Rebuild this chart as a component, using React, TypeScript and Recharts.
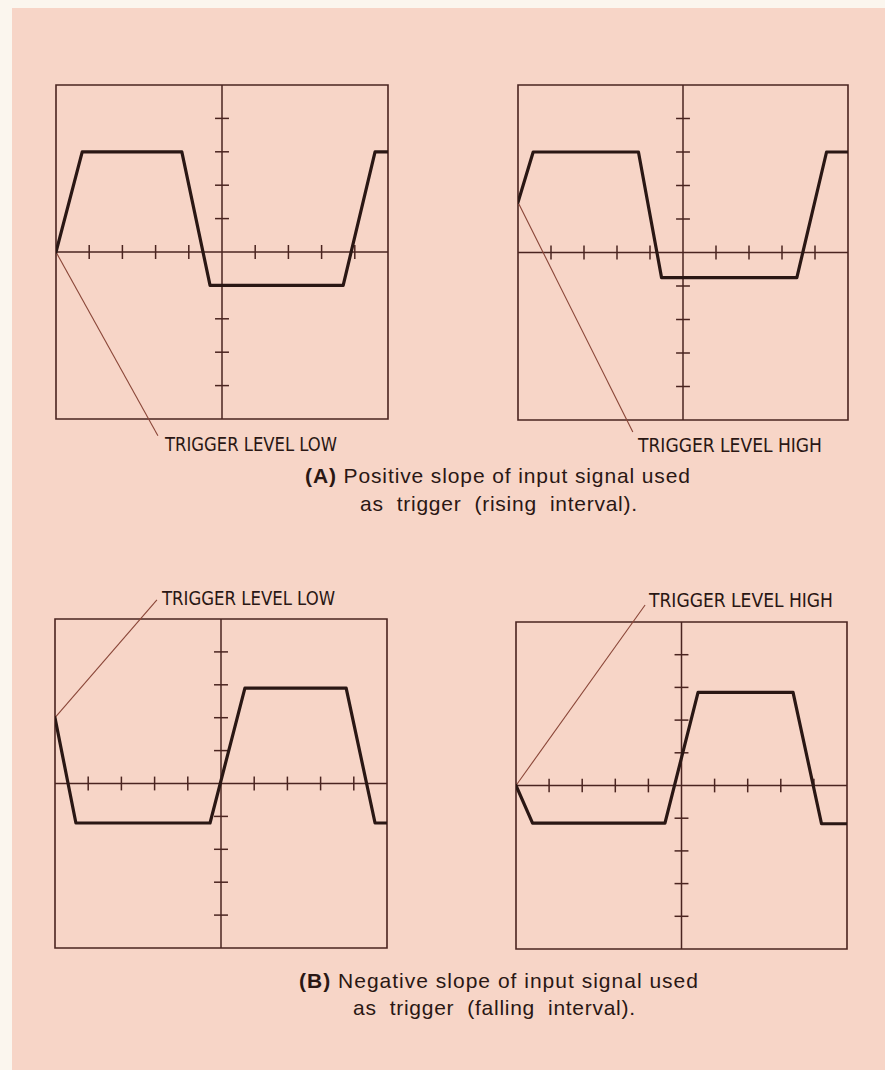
import React from 'react';
import { LineChart, Line, XAxis, YAxis, ReferenceLine, ReferenceArea } from 'recharts';

// ---- data (scope divisions, x and y in [-5, 5]) ----
const aLowX = [-5, -4.21, -1.21, -0.36, 3.65, 4.61, 5];
const aLowY = [0, 3, 3, -1, -1, 3, 3];
const aHighX = [-5, -4.54, -1.35, -0.65, 3.45, 4.35, 5];
const aHighY = [1.5, 3, 3, -0.75, -0.75, 3, 3];
const bLowX = [-5, -4.37, -0.33, 0.72, 3.77, 4.64, 5];
const bLowY = [2, -1.2, -1.2, 2.9, 2.9, -1.2, -1.2];
const bHighX = [-5, -4.5, -0.5, 0.5, 3.37, 4.23, 5];
const bHighY = [0, -1.15, -1.15, 2.85, 2.85, -1.17, -1.17];

const tickPositions = [-4, -3, -2, -1, 1, 2, 3, 4];

const labelLow = 'TRIGGER LEVEL LOW';
const labelHigh = 'TRIGGER LEVEL HIGH';
const captionA1Bold = '(A)';
const captionA1 = ' Positive slope of input signal used';
const captionA2 = 'as  trigger  (rising  interval).';
const captionB1Bold = '(B)';
const captionB1 = ' Negative slope of input signal used';
const captionB2 = 'as  trigger  (falling  interval).';

// arrow segments: from trace start to label (in divisions)
const arrowALow = [{ x: -5, y: 0 }, { x: -1.93, y: -5.5 }];
const arrowAHigh = [{ x: -5, y: 1.5 }, { x: -1.52, y: -5.36 }];
const arrowBLow = [{ x: -5, y: 2 }, { x: -1.93, y: 5.58 }];
const arrowBHigh = [{ x: -5, y: 0 }, { x: -1.1, y: 5.52 }];

const BG = '#F7D5C7';
const INK = '#2a1714';
const AXIS = '#4a2420';
const ARROW = '#8a4638';

type Box = { x0: number; x1: number; y0: number; y1: number };

function Panel({ xs, ys, box, labelBelow, arrow }: { xs: number[]; ys: number[]; box: Box; labelBelow: boolean; arrow: { x: number; y: number }[] }) {
  const margin = labelBelow ? { top: 10, right: 10, bottom: 40, left: 10 } : { top: 40, right: 10, bottom: 10, left: 10 };
  const w = box.x1 - box.x0 + margin.left + margin.right;
  const h = box.y1 - box.y0 + margin.top + margin.bottom;
  const data = xs.map((x, i) => ({ x, y: ys[i] }));
  const tl = 0.21;
  return (
    <div style={{ position: 'absolute', left: box.x0 - margin.left, top: box.y0 - margin.top, width: w, height: h }}>
      <LineChart width={w} height={h} data={data} margin={margin} style={{ overflow: 'visible' }}>
        <XAxis type="number" dataKey="x" domain={[-5, 5]} hide allowDataOverflow />
        <YAxis type="number" domain={[-5, 5]} hide allowDataOverflow />
        <ReferenceArea x1={-5} x2={5} y1={-5} y2={5} fill="none" stroke={AXIS} strokeWidth={1.6} fillOpacity={0} ifOverflow="visible" />
        <ReferenceLine x={0} stroke={AXIS} strokeWidth={1.5} ifOverflow="visible" />
        <ReferenceLine y={0} stroke={AXIS} strokeWidth={1.5} ifOverflow="visible" />
        {tickPositions.map((t) => (
          <ReferenceLine key={'tx' + t} segment={[{ x: t, y: -tl }, { x: t, y: tl }]} stroke={AXIS} strokeWidth={1.5} ifOverflow="visible" />
        ))}
        {tickPositions.map((t) => (
          <ReferenceLine key={'ty' + t} segment={[{ x: -tl, y: t }, { x: tl, y: t }]} stroke={AXIS} strokeWidth={1.5} ifOverflow="visible" />
        ))}
        <ReferenceLine segment={arrow} stroke={ARROW} strokeWidth={1.1} ifOverflow="visible" />
        <Line type="linear" dataKey="y" stroke={INK} strokeWidth={3.2} dot={false} activeDot={false} isAnimationActive={false} strokeLinejoin="round" strokeLinecap="round" />
      </LineChart>
    </div>
  );
}

export default function App() {
  const labelFont = "'Liberation Sans Narrow', 'DejaVu Sans Condensed', 'Liberation Sans', sans-serif";
  const capFont = "'Liberation Sans', Arial, sans-serif";
  return (
    <div style={{ position: 'absolute', left: 0, top: 0, width: 885, height: 1070, background: '#fbf6ee', overflow: 'hidden' }}>
      <div style={{ position: 'absolute', left: 12, top: 8, width: 873, height: 1062, background: BG }} />
      <Panel xs={aLowX} ys={aLowY} box={{ x0: 56, x1: 388, y0: 85, y1: 419 }} labelBelow arrow={arrowALow} />
      <Panel xs={aHighX} ys={aHighY} box={{ x0: 518, x1: 848, y0: 85, y1: 420 }} labelBelow arrow={arrowAHigh} />
      <Panel xs={bLowX} ys={bLowY} box={{ x0: 55, x1: 387, y0: 619, y1: 948 }} labelBelow={false} arrow={arrowBLow} />
      <Panel xs={bHighX} ys={bHighY} box={{ x0: 516, x1: 847, y0: 622, y1: 949 }} labelBelow={false} arrow={arrowBHigh} />
      <svg width={885} height={1070} style={{ position: 'absolute', left: 0, top: 0, pointerEvents: 'none' }}>
        <g fill={INK} fontFamily={labelFont} fontSize={19}>
          <text x={165} y={451} textLength={172} lengthAdjust="spacingAndGlyphs">{labelLow}</text>
          <text x={638} y={451.5} textLength={184} lengthAdjust="spacingAndGlyphs">{labelHigh}</text>
          <text x={162} y={605} textLength={173} lengthAdjust="spacingAndGlyphs">{labelLow}</text>
          <text x={649} y={607} textLength={184} lengthAdjust="spacingAndGlyphs">{labelHigh}</text>
        </g>
        <g fill={INK} fontFamily={capFont} fontSize={21}>
          <text x={305} y={483} textLength={385} lengthAdjust="spacing">
            <tspan fontWeight="bold">{captionA1Bold}</tspan>
            <tspan>{captionA1}</tspan>
          </text>
          <text x={360} y={511} textLength={277} lengthAdjust="spacing" xmlSpace="preserve" style={{ whiteSpace: 'pre' }}>{captionA2}</text>
          <text x={299} y={988} textLength={399} lengthAdjust="spacing">
            <tspan fontWeight="bold">{captionB1Bold}</tspan>
            <tspan>{captionB1}</tspan>
          </text>
          <text x={353} y={1015} textLength={282} lengthAdjust="spacing" style={{ whiteSpace: 'pre' }}>{captionB2}</text>
        </g>
      </svg>
    </div>
  );
}
